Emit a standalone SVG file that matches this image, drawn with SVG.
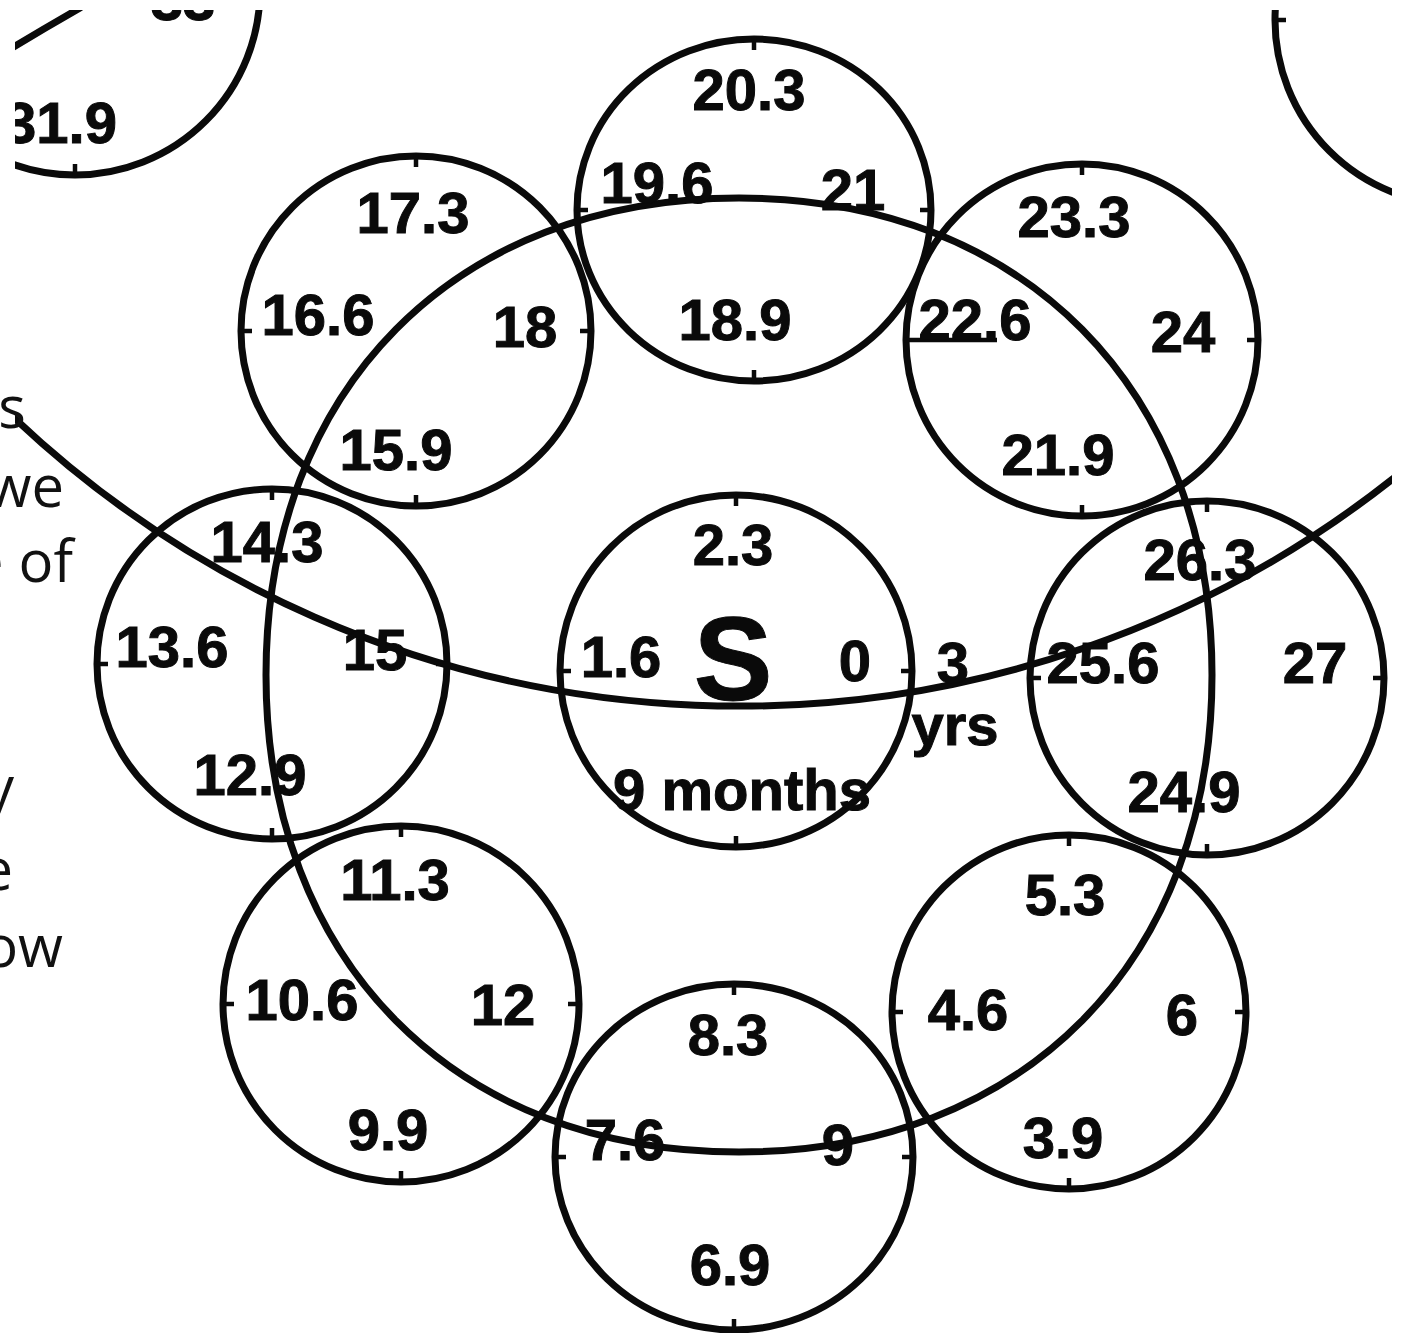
<svg xmlns="http://www.w3.org/2000/svg" width="1402" height="1333" viewBox="0 0 1402 1333">
<style>
.c{fill:none;stroke:#0a0a0a;stroke-width:7}
.t{fill:none;stroke:#0a0a0a;stroke-width:4.5}
.k{fill:none;stroke:#0a0a0a;stroke-width:7;stroke-linecap:round}
.n{font-family:"Liberation Sans",Arial,sans-serif;font-weight:bold;font-size:58px;fill:#0a0a0a;text-anchor:middle;stroke:#0a0a0a;stroke-width:1}
.big{font-size:118px}
.s{font-family:"Open Sans","Noto Sans",sans-serif;font-size:58px;fill:#111;text-anchor:end}
</style>
<defs>
<clipPath id="fig"><rect x="15" y="10" width="1377" height="1323"/></clipPath>
</defs>
<rect x="0" y="0" width="1402" height="1333" fill="#fff"/>
<g clip-path="url(#fig)">
<g id="connectors">
<path class="k" d="M1212,675 C1212,961 1023,1152 739,1152 C455,1152 266,961 266,675 C266,389 455,198 739,198 C1023,198 1212,389 1212,675 Z"/>
<path class="k" d="M10,414 A1055,1055 0 0 0 1402,471.5"/>
<path class="k" d="M12,48 Q45,28 80,8"/>
</g>
<g id="node-tl">
<circle class="c" cx="75" cy="-10" r="185"/>
<path class="t" d="M75,177 V164"/>
<text class="n" x="117" y="143" style="text-anchor:end">31.9</text>
<text class="n" x="183" y="20">33</text>
</g>
<g id="node-tr">
<circle class="c" cx="1460" cy="20" r="185"/>
<path class="t" d="M1273,20 H1286"/>
</g>
<g id="node-top">
<ellipse class="c" cx="754" cy="210" rx="177" ry="171"/>
<path class="t" d="M754,37 V50 M754,383 V370 M575,210 H588 M933,210 H920"/>
<text class="n" x="749" y="110">20.3</text>
<text class="n" x="657" y="203">19.6</text>
<text class="n" x="853" y="210">21</text>
<text class="n" x="735" y="340">18.9</text>
</g>
<g id="node-ul">
<circle class="c" cx="416" cy="331" r="175"/>
<path class="t" d="M416,154 V167 M416,508 V495 M239,331 H252 M593,331 H580"/>
<text class="n" x="413" y="233">17.3</text>
<text class="n" x="318" y="335">16.6</text>
<text class="n" x="525" y="347">18</text>
<text class="n" x="396" y="470">15.9</text>
</g>
<g id="node-ur">
<circle class="c" cx="1082" cy="340" r="176"/>
<path class="t" d="M1082,162 V175 M1082,518 V505 M904,340 H997 M1260,340 H1247"/>
<text class="n" x="1074" y="237">23.3</text>
<text class="n" x="975" y="340">22.6</text>
<text class="n" x="1183" y="352">24</text>
<text class="n" x="1058" y="475">21.9</text>
</g>
<g id="node-l">
<circle class="c" cx="272" cy="664" r="175"/>
<path class="t" d="M272,487 V500 M272,841 V828 M95,664 H108 M449,664 H436"/>
<text class="n" x="267" y="562">14.3</text>
<text class="n" x="172" y="667">13.6</text>
<text class="n" x="375" y="670">15</text>
<text class="n" x="250" y="795">12.9</text>
</g>
<g id="node-s">
<circle class="c" cx="736" cy="671" r="176"/>
<path class="t" d="M736,493 V506 M736,849 V836 M558,671 H571 M914,671 H901"/>
<text class="n" x="733" y="565">2.3</text>
<text class="n" x="621" y="677">1.6</text>
<text class="n big" x="733" y="700">S</text>
<text class="n" x="855" y="681">0</text>
<text class="n" x="953" y="683">3</text>
<text class="n" x="955" y="745">yrs</text>
<text class="n" x="742" y="810">9 months</text>
</g>
<g id="node-r">
<circle class="c" cx="1207" cy="678" r="177"/>
<path class="t" d="M1207,499 V512 M1207,857 V844 M1028,678 H1041 M1386,678 H1373"/>
<text class="n" x="1200" y="580">26.3</text>
<text class="n" x="1103" y="683">25.6</text>
<text class="n" x="1315" y="683">27</text>
<text class="n" x="1184" y="812">24.9</text>
</g>
<g id="node-ll">
<circle class="c" cx="401" cy="1004" r="178"/>
<path class="t" d="M401,824 V837 M401,1184 V1171 M221,1004 H234 M581,1004 H568"/>
<text class="n" x="395" y="900">11.3</text>
<text class="n" x="302" y="1020">10.6</text>
<text class="n" x="503" y="1025">12</text>
<text class="n" x="388" y="1150">9.9</text>
</g>
<g id="node-b">
<ellipse class="c" cx="734" cy="1157" rx="179" ry="173"/>
<path class="t" d="M734,982 V995 M734,1332 V1319 M553,1157 H566 M915,1157 H902"/>
<text class="n" x="728" y="1055">8.3</text>
<text class="n" x="625" y="1160">7.6</text>
<text class="n" x="838" y="1165">9</text>
<text class="n" x="730" y="1285">6.9</text>
</g>
<g id="node-lr">
<circle class="c" cx="1069" cy="1012" r="177"/>
<path class="t" d="M1069,833 V846 M1069,1191 V1178 M890,1012 H903 M1248,1012 H1235"/>
<text class="n" x="1065" y="915">5.3</text>
<text class="n" x="968" y="1030">4.6</text>
<text class="n" x="1182" y="1035">6</text>
<text class="n" x="1063" y="1158">3.9</text>
</g>
</g>
<g id="slide-text">
<text class="s" x="26" y="428">rs</text>
<text class="s" x="64" y="507">we</text>
<text class="s" x="73" y="582">e of</text>
<text class="s" x="14" y="808">y</text>
<text class="s" x="13" y="890">e</text>
<text class="s" x="63" y="967">ow</text>
</g>
</svg>
